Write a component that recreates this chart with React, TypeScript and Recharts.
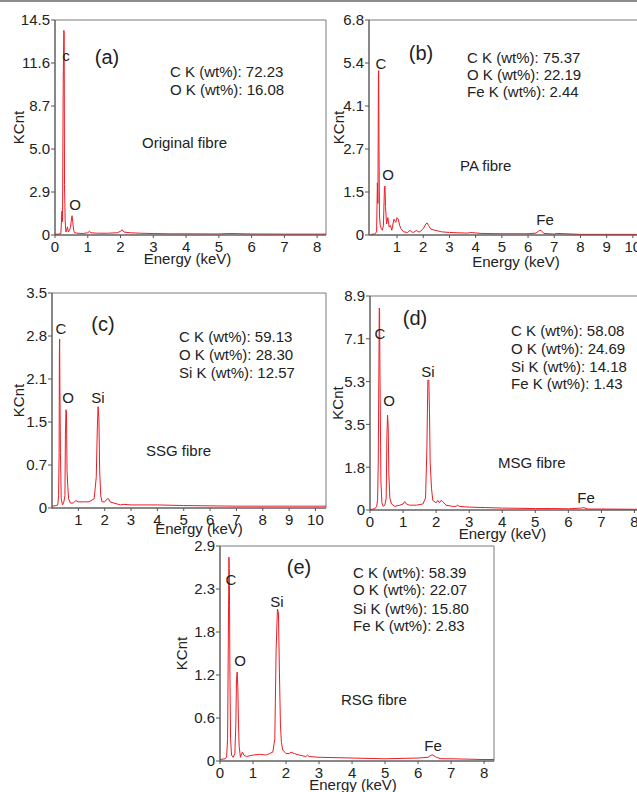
import React from 'react';
import { LineChart, Line, XAxis, YAxis, ReferenceArea } from 'recharts';

// ---------- data (energy keV, counts KCnt) ----------
const spectrumA: [number, number][] = [
  [0, 0.05], [0.1, 0.06], [0.18, 0.1], [0.21, 1.6], [0.23, 0.9], [0.25, 10.2], [0.27, 13.8], [0.28, 13.6],
  [0.29, 3.4], [0.31, 1.0], [0.33, 0.2], [0.35, 0.25], [0.38, 0.55], [0.41, 0.2], [0.44, 0.3], [0.47, 0.5],
  [0.5, 1.0], [0.52, 1.3], [0.54, 0.9], [0.57, 0.3], [0.6, 0.15], [0.7, 0.12], [0.85, 0.1], [1.0, 0.15],
  [1.05, 0.25], [1.1, 0.15], [1.3, 0.12], [1.6, 0.12], [1.9, 0.15], [2.0, 0.25], [2.05, 0.35], [2.1, 0.2],
  [2.3, 0.15], [2.6, 0.12], [3.0, 0.1], [3.5, 0.08], [4.0, 0.08], [5.0, 0.07], [5.3, 0.1], [6.0, 0.07],
  [7.0, 0.06], [8.0, 0.06], [8.27, 0.06],
];
const spectrumB: [number, number][] = [
  [0, 0.02], [0.15, 0.03], [0.22, 0.1], [0.25, 1.65], [0.27, 1.0], [0.29, 5.1], [0.3, 5.2], [0.31, 3.0],
  [0.33, 0.6], [0.36, 0.3], [0.4, 0.2], [0.44, 0.15], [0.48, 0.3], [0.52, 1.5], [0.54, 1.55], [0.56, 0.9],
  [0.6, 0.35], [0.65, 0.55], [0.7, 0.25], [0.75, 0.3], [0.8, 0.15], [0.88, 0.5], [0.95, 0.4], [1.0, 0.55],
  [1.05, 0.5], [1.1, 0.3], [1.15, 0.2], [1.25, 0.1], [1.4, 0.08], [1.5, 0.15], [1.55, 0.1], [1.62, 0.08],
  [1.75, 0.15], [1.8, 0.1], [1.87, 0.1], [2.0, 0.2], [2.1, 0.35], [2.15, 0.38], [2.2, 0.3], [2.3, 0.18],
  [2.45, 0.15], [2.6, 0.12], [2.7, 0.1], [3.0, 0.08], [3.3, 0.07], [3.7, 0.06], [3.8, 0.08], [4.2, 0.05],
  [5.0, 0.04], [6.0, 0.04], [6.3, 0.06], [6.4, 0.12], [6.45, 0.15], [6.5, 0.14], [6.6, 0.05], [7.0, 0.03],
  [7.1, 0.05], [8.0, 0.02], [9.0, 0.02], [10.0, 0.02], [11.1, 0.02],
];
const spectrumC: [number, number][] = [
  [0, 0.03], [0.15, 0.04], [0.22, 0.05], [0.25, 0.2], [0.27, 0.9], [0.28, 2.5], [0.29, 2.75], [0.3, 2.0],
  [0.32, 0.9], [0.35, 0.15], [0.4, 0.05], [0.45, 0.1], [0.49, 0.2], [0.51, 1.2], [0.53, 1.6], [0.55, 1.55],
  [0.57, 0.6], [0.6, 0.35], [0.63, 0.15], [0.7, 0.08], [0.8, 0.08], [0.9, 0.12], [1.0, 0.1], [1.2, 0.1],
  [1.4, 0.1], [1.6, 0.15], [1.68, 0.5], [1.72, 1.3], [1.75, 1.65], [1.78, 1.45], [1.81, 0.6], [1.85, 0.2],
  [1.9, 0.1], [2.0, 0.1], [2.1, 0.15], [2.15, 0.15], [2.2, 0.1], [2.35, 0.08], [2.6, 0.05], [2.7, 0.06],
  [3.0, 0.05], [4.0, 0.05], [5.0, 0.04], [7.0, 0.03], [9.0, 0.03], [10.4, 0.03],
];
const spectrumD: [number, number][] = [
  [0, 0.02], [0.15, 0.05], [0.2, 0.15], [0.23, 0.4], [0.25, 2.0], [0.27, 6.1], [0.28, 8.4], [0.29, 8.3],
  [0.3, 6.0], [0.31, 4.4], [0.33, 1.2], [0.36, 0.3], [0.4, 0.15], [0.45, 0.2], [0.49, 0.5], [0.51, 3.0],
  [0.53, 3.95], [0.55, 3.5], [0.57, 1.5], [0.6, 0.5], [0.65, 0.25], [0.75, 0.15], [0.9, 0.2], [1.0, 0.25],
  [1.05, 0.35], [1.1, 0.25], [1.2, 0.2], [1.4, 0.2], [1.6, 0.25], [1.68, 0.5], [1.72, 2.5], [1.75, 5.4],
  [1.78, 5.4], [1.8, 4.0], [1.82, 2.0], [1.86, 0.9], [1.9, 0.4], [2.0, 0.3], [2.05, 0.4], [2.1, 0.3],
  [2.15, 0.4], [2.2, 0.35], [2.3, 0.2], [2.5, 0.15], [2.6, 0.15], [2.65, 0.2], [2.7, 0.15], [3.0, 0.12],
  [3.5, 0.1], [4.0, 0.08], [5.0, 0.06], [5.5, 0.06], [6.0, 0.05], [6.4, 0.08], [6.45, 0.1], [6.5, 0.08],
  [6.6, 0.04], [7.0, 0.04], [8.0, 0.03], [8.5, 0.03],
];
const spectrumE: [number, number][] = [
  [0, 0.02], [0.15, 0.03], [0.2, 0.05], [0.23, 0.3], [0.25, 1.5], [0.27, 2.75], [0.28, 2.6], [0.29, 2.1],
  [0.3, 1.2], [0.32, 0.3], [0.35, 0.08], [0.4, 0.05], [0.45, 0.1], [0.48, 0.5], [0.5, 1.1], [0.52, 1.2],
  [0.54, 1.0], [0.56, 0.5], [0.58, 0.2], [0.62, 0.05], [0.68, 0.12], [0.72, 0.08], [0.8, 0.06], [1.0, 0.08],
  [1.2, 0.09], [1.4, 0.08], [1.5, 0.1], [1.6, 0.12], [1.66, 0.3], [1.7, 1.5], [1.74, 2.05], [1.77, 2.0],
  [1.8, 1.2], [1.83, 0.5], [1.86, 0.25], [1.9, 0.15], [2.0, 0.1], [2.1, 0.1], [2.15, 0.12], [2.25, 0.1],
  [2.4, 0.08], [2.6, 0.06], [2.65, 0.08], [2.7, 0.06], [3.0, 0.05], [4.0, 0.04], [5.0, 0.03], [6.0, 0.04],
  [6.3, 0.05], [6.4, 0.08], [6.45, 0.08], [6.55, 0.05], [6.7, 0.03], [7.0, 0.03], [8.0, 0.02], [8.3, 0.02],
];

// ---------- axis ticks & labels ----------
const xTicksA = [0, 1, 2, 3, 4, 5, 6, 7, 8];
const xTicksB = [1, 2, 3, 4, 5, 6, 7, 8, 9, 10];
const xTicksC = [1, 2, 3, 4, 5, 6, 7, 8, 9, 10];
const xTicksD = [0, 1, 2, 3, 4, 5, 6, 7, 8];
const xTicksE = [0, 1, 2, 3, 4, 5, 6, 7, 8];

const yTicksA = [0, 2.9, 5.8, 8.7, 11.6, 14.5];
const yLabelsA = ['0', '2.9', '5.0', '8.7', '11.6', '14.5'];
const yTicksB = [0, 1.36, 2.72, 4.08, 5.44, 6.8];
const yLabelsB = ['0', '1.5', '2.7', '4.1', '5.4', '6.8'];
const yTicksC = [0, 0.7, 1.4, 2.1, 2.8, 3.5];
const yLabelsC = ['0', '0.7', '1.5', '2.1', '2.8', '3.5'];
const yTicksD = [0, 1.78, 3.56, 5.34, 7.12, 8.9];
const yLabelsD = ['0', '1.8', '3.5', '5.3', '7.1', '8.9'];
const yTicksE = [0, 0.58, 1.16, 1.74, 2.32, 2.9];
const yLabelsE = ['0', '0.6', '1.2', '1.8', '2.3', '2.9'];

const wtA = ['C K (wt%): 72.23', 'O K (wt%): 16.08'];
const wtB = ['C K (wt%): 75.37', 'O K (wt%): 22.19', 'Fe K (wt%): 2.44'];
const wtC = ['C K (wt%): 59.13', 'O K (wt%): 28.30', 'Si K (wt%): 12.57'];
const wtD = ['C K (wt%): 58.08', 'O K (wt%): 24.69', 'Si K (wt%): 14.18', 'Fe K (wt%): 1.43'];
const wtE = ['C K (wt%): 58.39', 'O K (wt%): 22.07', 'Si K (wt%): 15.80', 'Fe K (wt%): 2.83'];

const FONT = '"Liberation Sans", Arial, Helvetica, sans-serif';
const TXT = '#222';
const RED = '#ee1c24';
const BOX = '#7a7a7a';

type Rect = { l: number; t: number; r: number; b: number };

type PanelProps = {
  spectrum: [number, number][];
  domain: [number, number];
  xTicks: number[];
  yTicks: number[];
  yLabels: string[];
  rect: Rect;
  kcntDist: number;
  xLabelDx: number;
  xLabelDy: number;
};

function Panel({ spectrum, domain, xTicks, yTicks, yLabels, rect, kcntDist, xLabelDx, xLabelDy }: PanelProps) {
  const data = spectrum.map(([e, c]) => ({ e, c }));
  const YW = 50;
  const XH = 45;
  const MT = 10;
  const MR = 10;
  const width = rect.r - rect.l + YW + MR;
  const height = rect.b - rect.t + MT + XH;
  const yMax = yTicks[yTicks.length - 1];
  const tickStyle = { fill: TXT, fontSize: 15, fontFamily: FONT };
  return (
    <div style={{ position: 'absolute', left: rect.l - YW, top: rect.t - MT }}>
      <LineChart width={width} height={height} data={data} margin={{ top: MT, right: MR, left: 0, bottom: 0 }}>
        <XAxis
          type="number"
          dataKey="e"
          domain={domain}
          ticks={xTicks}
          interval={0}
          allowDataOverflow
          height={XH}
          tickSize={3}
          tickMargin={3}
          stroke="#555"
          tick={tickStyle}
          label={{
            content: (p: any) => {
              const vb = p.viewBox || { x: 0, y: 0, width: 0 };
              return (
                <text
                  x={vb.x + vb.width / 2 + xLabelDx}
                  y={vb.y + xLabelDy}
                  textAnchor="middle"
                  dominantBaseline="central"
                  fill={TXT}
                  fontSize={15}
                  fontFamily={FONT}
                >
                  Energy (keV)
                </text>
              );
            },
          }}
        />
        <YAxis
          type="number"
          domain={[0, yMax]}
          ticks={yTicks}
          interval={0}
          allowDataOverflow
          width={YW}
          tickSize={4}
          tickMargin={1}
          stroke="#555"
          tick={tickStyle}
          tickFormatter={(v: number) => {
            const i = yTicks.indexOf(v);
            return i >= 0 ? yLabels[i] : String(v);
          }}
          label={{
            content: (p: any) => {
              const vb = p.viewBox || { x: 0, y: 0, width: 0, height: 0 };
              const cx = vb.x + vb.width - kcntDist;
              const cy = vb.y + vb.height / 2;
              return (
                <text
                  x={cx}
                  y={cy}
                  transform={`rotate(-90 ${cx} ${cy})`}
                  textAnchor="middle"
                  dominantBaseline="central"
                  fill={TXT}
                  fontSize={15}
                  fontFamily={FONT}
                >
                  KCnt
                </text>
              );
            },
          }}
        />
        <ReferenceArea x1={domain[0]} x2={domain[1]} y1={0} y2={yMax} fill="none" fillOpacity={0} stroke={BOX} strokeWidth={1} />
        <Line type="linear" dataKey="c" stroke={RED} strokeWidth={1} dot={false} isAnimationActive={false} />
      </LineChart>
    </div>
  );
}

type Note = { text: string; x: number; y: number; size?: number; anchor?: 'start' | 'middle' };

function notesFor(
  tag: string, tagPos: [number, number],
  wt: string[], wtLeft: number, wtYs: number[],
  fibre: string, fibrePos: [number, number],
  elems: [string, number, number][],
): Note[] {
  const out: Note[] = [];
  out.push({ text: tag, x: tagPos[0], y: tagPos[1], size: 20, anchor: 'middle' });
  wt.forEach((t, i) => out.push({ text: t, x: wtLeft, y: wtYs[i], anchor: 'start' }));
  out.push({ text: fibre, x: fibrePos[0], y: fibrePos[1], anchor: 'start' });
  elems.forEach(([t, x, y]) => out.push({ text: t, x, y, anchor: 'middle' }));
  return out;
}

const notes: Note[] = [
  ...notesFor('(a)', [107, 57], wtA, 170, [71, 89], 'Original fibre', [142, 142], [['c', 66, 55], ['O', 75, 204]]),
  ...notesFor('(b)', [421, 53], wtB, 467, [57, 74, 91], 'PA fibre', [460, 165], [['C', 381, 63], ['O', 388, 174], ['Fe', 545, 219]]),
  ...notesFor('(c)', [103, 324], wtC, 179, [336, 354, 372], 'SSG fibre', [146, 450], [['C', 61, 328], ['O', 68, 397], ['Si', 98, 397]]),
  ...notesFor('(d)', [415, 318], wtD, 511, [330, 348, 366, 383], 'MSG fibre', [498, 462], [['C', 380, 333], ['O', 389, 400], ['Si', 428, 371], ['Fe', 586, 497]]),
  ...notesFor('(e)', [299, 567], wtE, 353, [572, 589, 608, 625], 'RSG fibre', [341, 699], [['C', 231, 579], ['O', 240, 660], ['Si', 277, 601], ['Fe', 433, 745]]),
];

export default function App() {
  return (
    <div style={{ position: 'fixed', left: 0, top: 0, width: 637, height: 792, overflow: 'hidden', background: '#fff' }}>
      <div style={{ position: 'absolute', left: 0, top: 0, width: 637, height: 2, background: '#8c8c8c' }} />
      <Panel spectrum={spectrumA} domain={[0, 8.27]} xTicks={xTicksA} yTicks={yTicksA} yLabels={yLabelsA}
        rect={{ l: 55, t: 20, r: 326, b: 235 }} kcntDist={37} xLabelDx={-3} xLabelDy={23} />
      <Panel spectrum={spectrumB} domain={[-0.07, 11.15]} xTicks={xTicksB} yTicks={yTicksB} yLabels={yLabelsB}
        rect={{ l: 369, t: 20, r: 663, b: 235 }} kcntDist={31} xLabelDx={0} xLabelDy={26} />
      <Panel spectrum={spectrumC} domain={[0, 10.4]} xTicks={xTicksC} yTicks={yTicksC} yLabels={yLabelsC}
        rect={{ l: 52, t: 293, r: 326, b: 508 }} kcntDist={34} xLabelDx={10} xLabelDy={20} />
      <Panel spectrum={spectrumD} domain={[0, 8.5]} xTicks={xTicksD} yTicks={yTicksD} yLabels={yLabelsD}
        rect={{ l: 370, t: 296, r: 651, b: 510 }} kcntDist={33} xLabelDx={-8} xLabelDy={23} />
      <Panel spectrum={spectrumE} domain={[0, 8.3]} xTicks={xTicksE} yTicks={yTicksE} yLabels={yLabelsE}
        rect={{ l: 220, t: 546, r: 494, b: 761 }} kcntDist={39} xLabelDx={-4} xLabelDy={23} />
      <svg width={637} height={792} style={{ position: 'absolute', left: 0, top: 0, pointerEvents: 'none' }}>
        {notes.map((n, i) => (
          <text key={i} x={n.x} y={n.y} textAnchor={n.anchor || 'start'} dominantBaseline="central"
            fill={TXT} fontSize={n.size || 15} fontFamily={FONT}>
            {n.text}
          </text>
        ))}
      </svg>
    </div>
  );
}
